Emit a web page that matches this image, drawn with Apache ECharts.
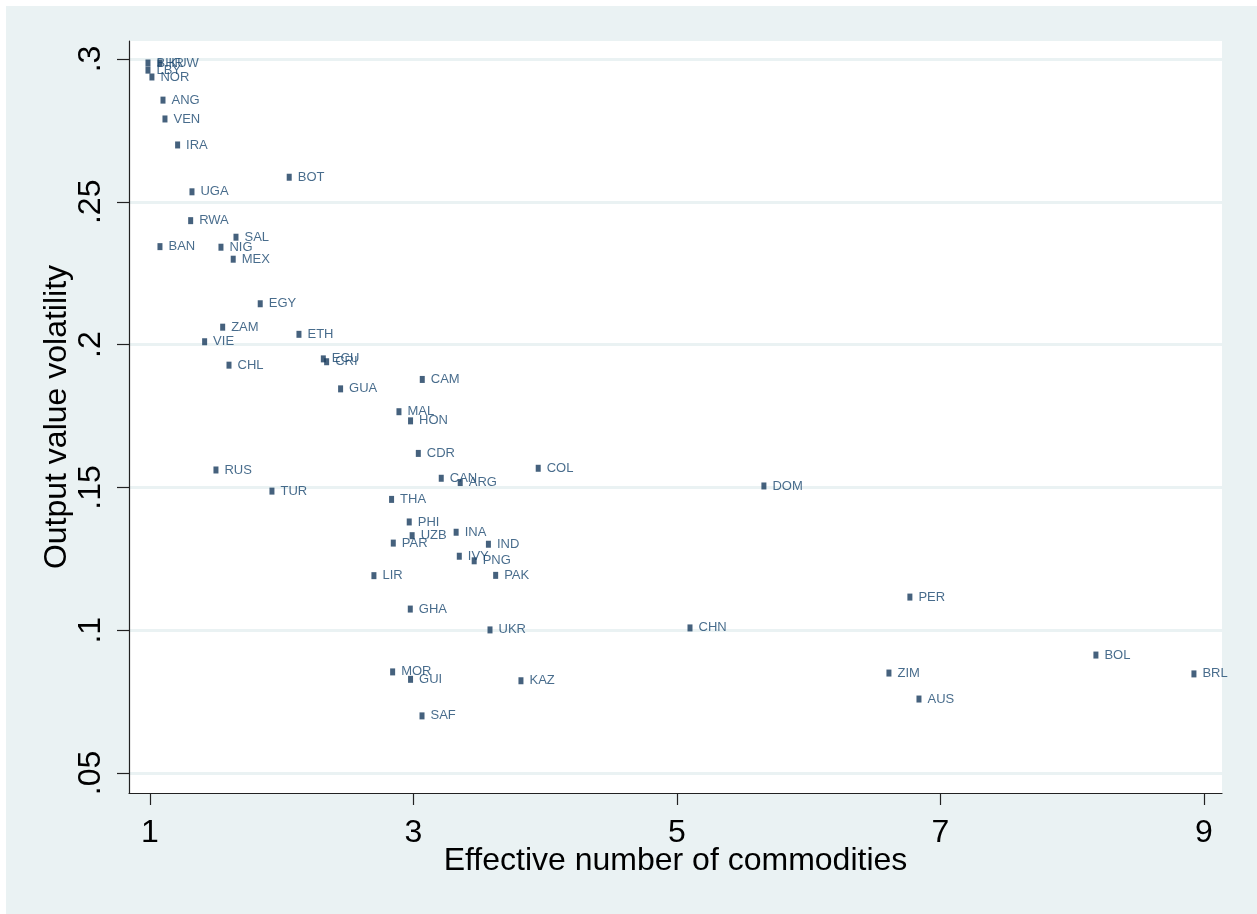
<!DOCTYPE html>
<html><head><meta charset="utf-8">
<script src="https://cdn.jsdelivr.net/npm/echarts@6/dist/echarts.min.js"></script>
<style>html,body{margin:0;padding:0;background:#fff;}#c{position:absolute;left:6px;top:6px;width:1251px;height:908px;}</style>
</head><body><div id="c"></div><script>
const countries = ['BHR','KUW','LBY','NOR','ANG','VEN','IRA','BOT','UGA','RWA','SAL','BAN','NIG','MEX',
  'EGY','ZAM','ETH','VIE','CHL','ECU','CRI','GUA','CAM','MAL','HON','CDR','CAN','ARG','COL','THA',
  'PHI','UZB','INA','PAR','IND','IVY','PNG','LIR','PAK','GHA','UKR','MOR','GUI','KAZ','SAF',
  'RUS','TUR','DOM','CHN','PER','BOL','ZIM','BRL','AUS'];
const effectiveCommodities = [0.985,1.076,0.985,1.015,1.099,1.114,1.21,2.057,1.319,1.309,1.653,1.076,1.539,1.632,
  1.837,1.552,2.131,1.415,1.600,2.316,2.341,2.447,3.067,2.890,2.978,3.037,3.211,3.355,3.947,2.834,
  2.968,2.990,3.324,2.847,3.569,3.348,3.461,2.700,3.624,2.976,3.581,2.842,2.978,3.816,3.065,
  1.501,1.926,5.660,5.099,6.768,8.180,6.609,8.924,6.837];
const outputVolatility = [0.2986,0.2986,0.2961,0.2937,0.2856,0.279,0.2699,0.2586,0.2535,0.2434,0.2376,0.2343,0.2341,0.2299,
  0.2143,0.2061,0.2036,0.2010,0.1928,0.1950,0.1940,0.1845,0.1878,0.1765,0.1733,0.1619,0.1532,0.1517,0.1567,0.1458,
  0.1379,0.1331,0.1343,0.1305,0.1301,0.1259,0.1243,0.1191,0.1192,0.1074,0.1001,0.0854,0.0828,0.0823,0.0700,
  0.1561,0.1487,0.1505,0.1008,0.1116,0.0913,0.0850,0.0847,0.0759];
const xTicks = [1,3,5,7,9];
const xTickLabels = ['1','3','5','7','9'];
const yTicks = [0.05,0.1,0.15,0.2,0.25,0.3];
const yTickLabels = ['.05','.1','.15','.2','.25','.3'];

const font = "'Liberation Sans', Arial, sans-serif";
const navy = '#1a476f';
const points = countries.map((c, i) => ({ value: [effectiveCommodities[i], outputVolatility[i]], name: c }));
function lab(ticks, labels, v) {
  for (let i = 0; i < ticks.length; i++) if (Math.abs(ticks[i] - v) < 1e-9) return labels[i];
  return '';
}
const chart = echarts.init(document.getElementById('c'), null, { renderer: 'canvas' });
chart.setOption({
  backgroundColor: '#eaf2f3',
  animation: false,
  grid: { left: 123, top: 35, right: 35, bottom: 121, show: true, backgroundColor: '#ffffff', borderWidth: 0 },
  xAxis: {
    type: 'value', min: 0.841, max: 9.137,
    name: 'Effective number of commodities', nameLocation: 'middle', nameGap: 52, nameMoveOverlap: false,
    nameTextStyle: { fontFamily: font, fontSize: 32, color: '#000' },
    axisLine: { show: true, onZero: false, lineStyle: { color: '#222', width: 1.2 } },
    axisTick: { show: true, length: 12, lineStyle: { color: '#222', width: 1.2 }, customValues: xTicks },
    axisLabel: { fontFamily: font, fontSize: 32, color: '#000', margin: 24, customValues: xTicks,
      formatter: v => lab(xTicks, xTickLabels, v) },
    splitLine: { show: false }
  },
  yAxis: {
    type: 'value', min: 0.043, max: 0.3063,
    name: 'Output value volatility', nameLocation: 'middle', nameGap: 56, nameRotate: 90, nameMoveOverlap: false,
    nameTextStyle: { fontFamily: font, fontSize: 32, color: '#000' },
    axisLine: { show: true, onZero: false, lineStyle: { color: '#222', width: 1.2 } },
    axisTick: { show: true, length: 12, lineStyle: { color: '#222', width: 1.2 }, customValues: yTicks },
    axisLabel: { fontFamily: font, fontSize: 32, color: '#000', margin: 22, rotate: 90, customValues: yTicks,
      formatter: v => lab(yTicks, yTickLabels, v) },
    splitLine: { show: true, lineStyle: { color: '#eaf2f3', width: 3 } }
  },
  series: [{
    type: 'scatter',
    data: points,
    symbol: 'rect', symbolSize: [5, 7],
    itemStyle: { color: '#17395c' },
    label: { show: true, position: 'right', distance: 6, formatter: p => p.name,
      fontFamily: font, fontSize: 13, color: navy }
  }]
});
</script></body></html>
